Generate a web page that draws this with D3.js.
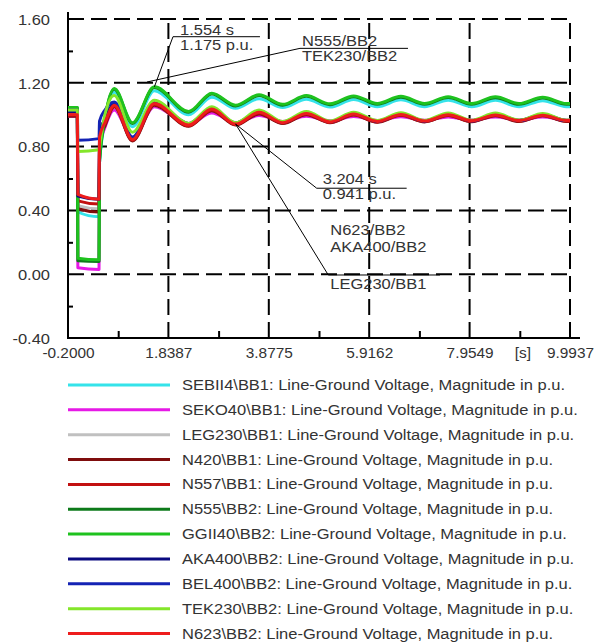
<!DOCTYPE html>
<html>
<head>
<meta charset="utf-8">
<script src="https://cdn.jsdelivr.net/npm/d3@7"></script>
<style>
  body { margin: 0; background: #fff; }
  svg { display: block; font-family: "Liberation Sans", Arial, sans-serif; }
</style>
</head>
<body>
<svg id="chart" width="605" height="643"></svg>
<script>
// ---- simulation samples (time in s, voltage in p.u.) ----
const times = [-0.2, -0.01, 0.0, 0.43, 0.44, 0.55, 0.74, 1.11, 1.554, 2.25, 2.72, 3.204, 3.68, 4.16,
               4.64, 5.12, 5.60, 6.08, 6.56, 7.04, 7.52, 8.00, 8.48, 8.96, 9.44, 9.92, 9.9937];

const sebii4 = [1.03, 1.03, 0.39, 0.36, 0.70, 0.95, 1.14, 0.925, 1.15, 1.0, 1.11, 1.04, 1.10, 1.045,
                1.097, 1.048, 1.095, 1.05, 1.093, 1.05, 1.091, 1.05, 1.09, 1.05, 1.088, 1.05, 1.05];
const seko40 = [0.99, 0.99, 0.04, 0.03, 0.80, 0.92, 1.03, 0.85, 1.05, 0.94, 1.01, 0.95, 0.995, 0.958,
                0.99, 0.962, 0.988, 0.964, 0.987, 0.965, 0.986, 0.966, 0.985, 0.967, 0.985, 0.967, 0.967];
const leg230 = [1.0, 1.0, 0.43, 0.41, 0.85, 0.94, 1.05, 0.84, 1.06, 0.93, 1.03, 0.94, 1.01, 0.948,
                1.005, 0.952, 1.0, 0.955, 0.998, 0.957, 0.997, 0.958, 0.996, 0.96, 0.995, 0.96, 0.96];
const n420   = [0.99, 0.99, 0.41, 0.39, 0.84, 0.93, 1.05, 0.835, 1.06, 0.928, 1.025, 0.935, 1.005, 0.945,
                1.0, 0.95, 0.998, 0.953, 0.996, 0.955, 0.995, 0.956, 0.994, 0.957, 0.993, 0.957, 0.957];
const n557   = [1.0, 1.0, 0.46, 0.44, 0.85, 0.94, 1.055, 0.84, 1.065, 0.93, 1.03, 0.938, 1.01, 0.948,
                1.005, 0.952, 1.0, 0.955, 0.998, 0.957, 0.997, 0.958, 0.996, 0.96, 0.995, 0.96, 0.96];
const n555   = [1.04, 1.04, 0.085, 0.08, 0.70, 0.97, 1.16, 0.945, 1.17, 1.015, 1.13, 1.055, 1.12, 1.06,
                1.115, 1.063, 1.113, 1.065, 1.11, 1.065, 1.108, 1.065, 1.107, 1.065, 1.105, 1.065, 1.065];
const ggii40 = [1.045, 1.045, 0.10, 0.09, 0.72, 0.98, 1.165, 0.95, 1.175, 1.02, 1.135, 1.06, 1.125, 1.065,
                1.12, 1.068, 1.118, 1.07, 1.115, 1.07, 1.113, 1.07, 1.112, 1.07, 1.11, 1.07, 1.07];
const aka400 = [1.02, 1.02, 0.49, 0.47, 0.90, 0.97, 1.07, 0.85, 1.075, 0.94, 1.04, 0.945, 1.02, 0.952,
                1.012, 0.956, 1.008, 0.958, 1.006, 0.96, 1.005, 0.962, 1.003, 0.963, 1.002, 0.963, 0.963];
const bel400 = [1.03, 1.03, 0.84, 0.85, 0.96, 1.03, 1.08, 0.86, 1.08, 0.945, 1.04, 0.948, 1.02, 0.953,
                1.012, 0.957, 1.008, 0.96, 1.006, 0.961, 1.004, 0.962, 1.003, 0.963, 1.002, 0.963, 0.963];
const tek230 = [1.03, 1.03, 0.77, 0.78, 0.80, 1.0, 1.12, 0.89, 1.09, 0.945, 1.05, 0.95, 1.03, 0.957,
                1.02, 0.96, 1.016, 0.963, 1.013, 0.964, 1.011, 0.965, 1.01, 0.966, 1.008, 0.966, 0.966];
const n623   = [1.0, 1.0, 0.50, 0.47, 0.86, 0.95, 1.06, 0.845, 1.07, 0.935, 1.035, 0.941, 1.015, 0.95,
                1.008, 0.955, 1.004, 0.958, 1.002, 0.96, 1.0, 0.962, 0.998, 0.963, 0.997, 0.963, 0.963];

const seriesNames = [
  "SEBII4\\BB1", "SEKO40\\BB1", "LEG230\\BB1", "N420\\BB1", "N557\\BB1", "N555\\BB2",
  "GGII40\\BB2", "AKA400\\BB2", "BEL400\\BB2", "TEK230\\BB2", "N623\\BB2"
];
const seriesValues = [sebii4, seko40, leg230, n420, n557, n555, ggii40, aka400, bel400, tek230, n623];
const seriesColors = ["#35e3ea", "#e619e6", "#c0c0c0", "#7f0d0d", "#c21010", "#0d7a1a",
                      "#1ec21e", "#0a0a80", "#1423b4", "#84e62a", "#ee1c1c"];
const legendSuffix = ": Line-Ground Voltage, Magnitude in p.u.";

const xTickValues = [-0.2, 1.8387, 3.8775, 5.9162, 7.9549, 9.9937];
const xTickLabels = ["-0.2000", "1.8387", "3.8775", "5.9162", "7.9549", "9.9937"];
const yTickValues = [1.6, 1.2, 0.8, 0.4, 0.0, -0.4];
const yTickLabels = ["1.60", "1.20", "0.80", "0.40", "0.00", "-0.40"];

// cursor readouts
const cursorTimes  = [1.554, 3.204];
const cursorValues = [1.175, 0.941];
const cursorTexts  = [["1.554 s", "1.175 p.u."], ["3.204 s", "0.941 p.u."]];

// ---- layout ----
const svg = d3.select("#chart");
const HS = 1.1;               // horizontal glyph stretch
const textColor = "#333";
const x = d3.scaleLinear().domain([-0.2, 9.9937]).range([68, 570]);
const y = d3.scaleLinear().domain([-0.4, 1.6]).range([338, 19]);

function label(g, px, py, str, anchor, size, stretch) {
  return g.append("text")
    .attr("transform", `translate(${px},${py}) scale(${stretch || HS},1)`)
    .attr("text-anchor", anchor || "start")
    .attr("font-size", size || 15)
    .attr("fill", textColor)
    .text(str);
}

// grid
const grid = svg.append("g").attr("stroke", "#000").attr("stroke-width", 2)
  .attr("stroke-dasharray", "16,7").attr("fill", "none");
yTickValues.filter(v => v > -0.4).forEach(v => {
  grid.append("path").attr("d", `M${x(-0.2)},${y(v)}H${x(9.9937)}`);
});
xTickValues.filter(v => v > -0.2).forEach(v => {
  grid.append("path").attr("d", `M${x(v)},${y(-0.4)}V${y(1.6)}`);
});

// minor ticks via d3 axes
const yMinor = d3.pairs(yTickValues).map(([a, b]) => (a + b) / 2);
const xMinor = d3.pairs(xTickValues).map(([a, b]) => (a + b) / 2);
const yMinorAxis = svg.append("g").attr("transform", `translate(${x(-0.2)},0)`)
  .call(d3.axisLeft(y).tickValues(yMinor).tickSize(-5).tickFormat(""));
const xMinorAxis = svg.append("g").attr("transform", `translate(0,${y(-0.4)})`)
  .call(d3.axisBottom(x).tickValues(xMinor).tickSize(-7).tickFormat(""));
[yMinorAxis, xMinorAxis].forEach(a => {
  a.select(".domain").remove();
  a.selectAll("line").attr("stroke", "#000").attr("stroke-width", 2);
});

// tick labels via d3 axes
const yAxis = svg.append("g").attr("transform", `translate(${x(-0.2)},0)`)
  .call(d3.axisLeft(y).tickValues(yTickValues).tickSize(0).tickFormat((d, i) => yTickLabels[i]));
yAxis.select(".domain").remove();
yAxis.selectAll("text")
  .attr("x", null).attr("dy", "0.35em")
  .attr("transform", `translate(-18,0) scale(${HS},1)`)
  .attr("font-size", 15).attr("fill", textColor)
  .attr("font-family", "Liberation Sans, Arial, sans-serif");

const xAxis = svg.append("g").attr("transform", `translate(0,${y(-0.4)})`)
  .call(d3.axisBottom(x).tickValues(xTickValues).tickSize(0).tickFormat((d, i) => xTickLabels[i]));
xAxis.select(".domain").remove();
xAxis.selectAll("text")
  .attr("y", null).attr("dy", null)
  .attr("transform", `translate(0,20) scale(${HS},1)`)
  .attr("font-size", 14).attr("fill", textColor)
  .attr("font-family", "Liberation Sans, Arial, sans-serif");
label(svg, (x(7.9549) + x(9.9937)) / 2 + 3, y(-0.4) + 20, "[s]", "middle", 14);

// axis lines
svg.append("path").attr("d", `M${x(-0.2)},${y(1.6) - 7}V${y(-0.4)}H${x(9.9937) + 10}`)
  .attr("stroke", "#000").attr("stroke-width", 2).attr("fill", "none");

// curves
const line = d3.line()
  .x((d, i) => x(times[i]))
  .y(d => y(d))
  .curve(d3.curveMonotoneX);
svg.append("g").selectAll("path")
  .data(seriesValues)
  .join("path")
  .attr("d", line)
  .attr("fill", "none")
  .attr("stroke", (d, i) => seriesColors[i])
  .attr("stroke-width", 3)
  .attr("stroke-linejoin", "round");

// annotations: leader lines, readout text
const ann = svg.append("g");
const leader = (pts) => ann.append("path")
  .attr("d", d3.line()(pts.map(([t, v]) => [x(t), y(v)])))
  .attr("stroke", "#000").attr("stroke-width", 1).attr("fill", "none");

// readout 1
leader([[cursorTimes[0], cursorValues[0]], [1.932, 1.489], [3.698, 1.489]]);
label(ann, x(1.932) + 7, y(1.489) - 2, cursorTexts[0][0]);
label(ann, x(1.932) + 7, y(1.489) + 13, cursorTexts[0][1]);
// curve names near the first peak
leader([[1.404, 1.205], [4.511, 1.416], [6.704, 1.416]]);
label(ann, x(4.511) + 2, y(1.416) - 2, "N555/BB2");
label(ann, x(4.511) + 2, y(1.416) + 13, "TEK230/BB2");
// readout 2
leader([[cursorTimes[1], cursorValues[1]], [4.85, 0.539], [6.677, 0.539]]);
label(ann, x(4.85) + 6, y(0.539) - 4, cursorTexts[1][0]);
label(ann, x(4.85) + 6, y(0.539) + 11, cursorTexts[1][1]);
label(ann, x(5.085) + 2, y(-0.005) - 40, "N623/BB2");
label(ann, x(5.085) + 2, y(-0.005) - 23, "AKA400/BB2");
leader([[cursorTimes[1], cursorValues[1]], [5.085, -0.005], [7.353, -0.005]]);
label(ann, x(5.085) + 2, y(-0.005) + 14, "LEG230/BB1");

// legend
const legend = svg.append("g");
seriesNames.forEach((name, i) => {
  const ly = 385 + i * 24.85;
  legend.append("line").attr("x1", 68).attr("x2", 170).attr("y1", ly).attr("y2", ly)
    .attr("stroke", seriesColors[i]).attr("stroke-width", 3);
  label(legend, 182, ly + 5, name + legendSuffix, "start", 15, 1.1);
});
</script>
</body>
</html>
